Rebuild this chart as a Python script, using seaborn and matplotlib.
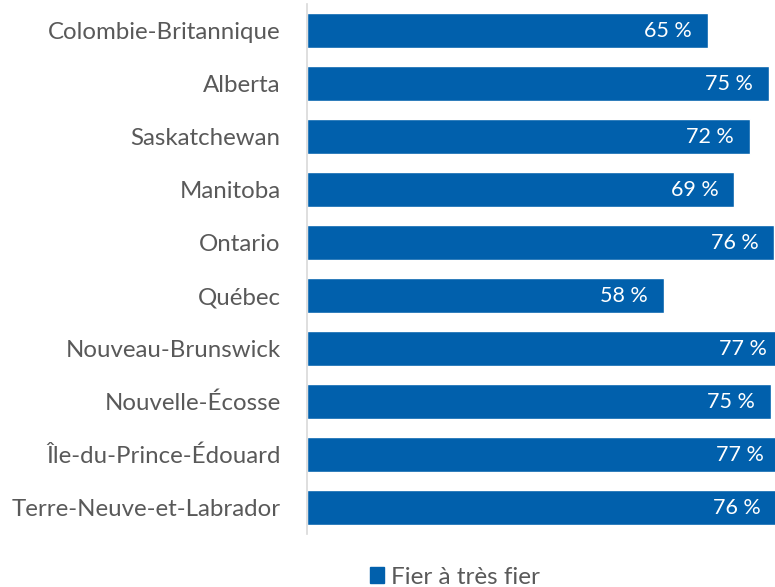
import matplotlib
matplotlib.use("Agg")
import matplotlib.pyplot as plt
import seaborn as sns
import pandas as pd
from matplotlib.patches import Patch

provinces = [
    "Colombie-Britannique", "Alberta", "Saskatchewan", "Manitoba", "Ontario",
    "Québec", "Nouveau-Brunswick", "Nouvelle-Écosse", "Île-du-Prince-Édouard",
    "Terre-Neuve-et-Labrador",
]
fier = [65.1, 75.0, 71.9, 69.4, 75.9, 58.0, 77.2, 75.4, 76.8, 76.3]
series_name = "Fier à très fier"

BLUE = "#0160ac"
GREY = "#595959"

df = pd.DataFrame({"province": provinces, "pct": fier})

sns.set_theme(style="white")
plt.rcParams["font.family"] = ["Lato", "DejaVu Sans"]

fig = plt.figure(figsize=(7.75, 5.87), dpi=100)
ax = fig.add_axes([307 / 775, 0.0903, 1 - 307 / 775, 0.9024])

sns.barplot(data=df, y="province", x="pct", orient="h", color=BLUE,
            width=0.66, saturation=1, ax=ax)

# labels sit inside the bar end, even where the bar runs past the axes
for i, v in enumerate(fier):
    ax.annotate(f"{round(v)} %", xy=(v, i), xytext=(-11.5, 0),
                textcoords="offset points", ha="right", va="center",
                color="white", fontsize=15.5, annotation_clip=False)

ax.set_xlim(0, 76)
ax.set_xlabel("")
ax.set_ylabel("")
ax.set_xticks([])
ax.tick_params(axis="y", length=0, pad=19, labelsize=17.3, labelcolor=GREY)
for s in ["top", "right", "bottom"]:
    ax.spines[s].set_visible(False)
ax.spines["left"].set_color("#d9d9d9")
ax.spines["left"].set_linewidth(1.2)

fig.legend(handles=[Patch(color=BLUE, label=series_name)],
           loc="center", bbox_to_anchor=(455 / 775, 0.017), frameon=False,
           fontsize=17.5, labelcolor=GREY, handlelength=0.6, handleheight=0.6,
           handletextpad=0.3)

fig.savefig("out.png", dpi=100)
